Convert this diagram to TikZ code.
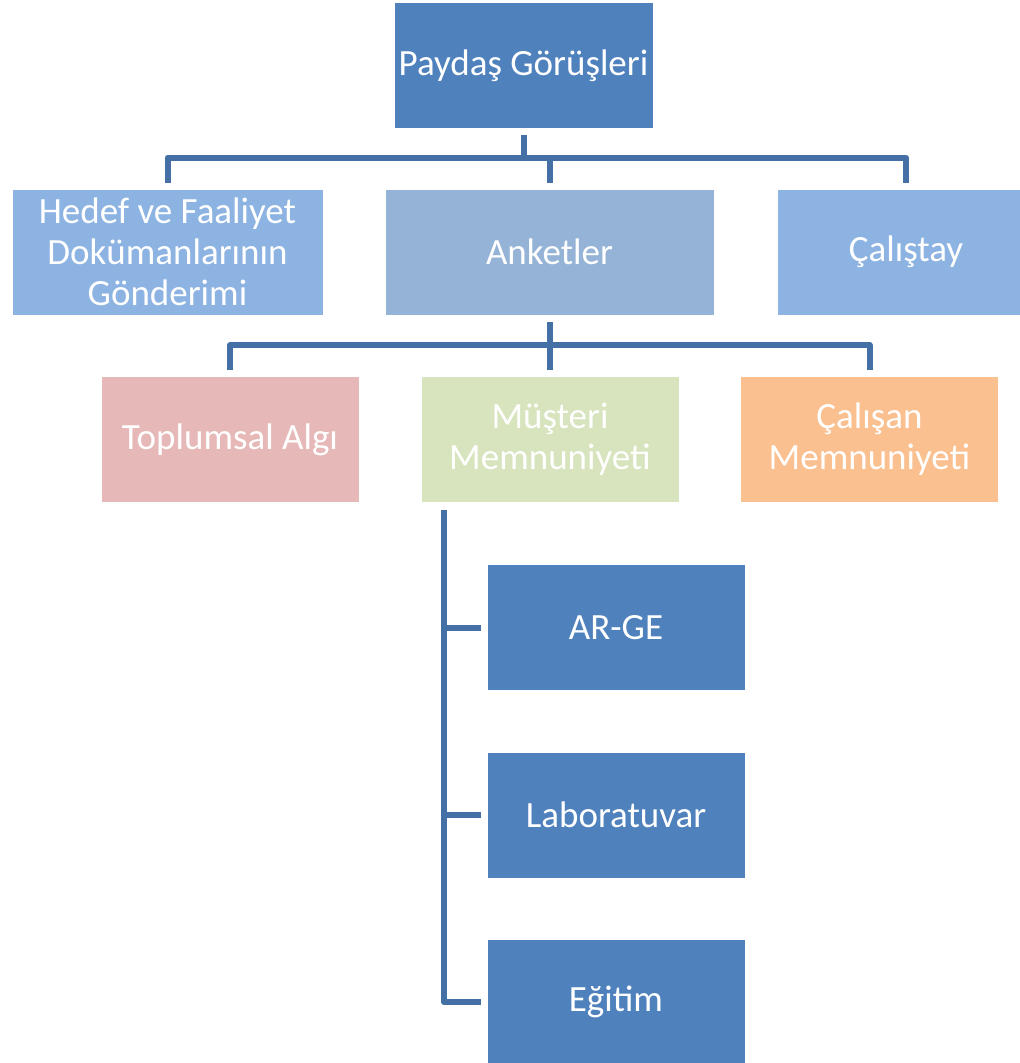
\documentclass[tikz,border=0pt]{standalone}
\usepackage{fontspec}
\setmainfont{Carlito}
\begin{document}
\begin{tikzpicture}[x=1pt,y=1pt,
  box/.style={rectangle, inner sep=0pt, align=center, text=white,
    font=\fontsize{37}{41}\selectfont, draw=white, line width=0.8pt,
    minimum height=126pt},
  conn/.style={draw=linec, line width=6pt, line join=round, line cap=butt}]
\definecolor{dblue}{HTML}{4F81BD}
\definecolor{lblue}{HTML}{8DB3E2}
\definecolor{mblue}{HTML}{95B3D7}
\definecolor{pinkc}{HTML}{E6B9B8}
\definecolor{greenc}{HTML}{D7E4BD}
\definecolor{orangec}{HTML}{FAC090}
\definecolor{linec}{HTML}{4470A6}
\useasboundingbox (0,0) rectangle (1020,-1063);
% level 1
\node[box, fill=dblue, minimum width=259pt] (top) at (523.5,-65.5) {Paydaş Görüşleri};
% level 2
\node[box, fill=lblue, minimum width=311pt] (hedef) at (167.5,-252) {Hedef ve Faaliyet\\Dokümanlarının\\Gönderimi};
\node[box, fill=mblue, minimum width=329pt] (anket) at (549.5,-252) {Anketler};
\node[box, fill=lblue, minimum width=258pt] (calis) at (906,-252) {Çalıştay};
% level 3
\node[box, fill=pinkc, minimum width=258pt] (topl) at (230,-439.5) {Toplumsal Algı};
\node[box, fill=greenc, minimum width=258pt] (must) at (550,-439.5) {Müşteri\\Memnuniyeti};
\node[box, fill=orangec, minimum width=258pt] (calm) at (869.5,-439.5) {Çalışan\\Memnuniyeti};
% level 4
\node[box, fill=dblue, minimum width=258pt] (arge) at (616,-627.5) {AR-GE};
\node[box, fill=dblue, minimum width=258pt] (lab) at (616,-815) {Laboratuvar};
\node[box, fill=dblue, minimum width=258pt] (egit) at (616,-1002) {Eğitim};
% connectors level 1-2
\draw[conn] ([yshift=-6pt]top.south) -- ++(0,-24);
\draw[conn] ([yshift=6pt]hedef.north) -- ++(0,25) -| ([yshift=6pt]calis.north);
\draw[conn] ([yshift=6pt]anket.north) -- ++(0,25);
% connectors level 2-3
\draw[conn] ([yshift=-7pt]anket.south) -- ([yshift=6pt]anket.south |- must.north);
\draw[conn] ([yshift=6pt]topl.north) -- ++(0,25) -| ([yshift=6pt]calm.north);
% connectors level 3-4
\draw[conn] ([xshift=-106pt,yshift=-7pt]must.south) |- ([xshift=-6pt]egit.west);
\draw[conn] ([xshift=-6pt]arge.west) -- (arge.west -| 441,0);
\draw[conn] ([xshift=-6pt]lab.west) -- (lab.west -| 441,0);
\end{tikzpicture}
\end{document}
